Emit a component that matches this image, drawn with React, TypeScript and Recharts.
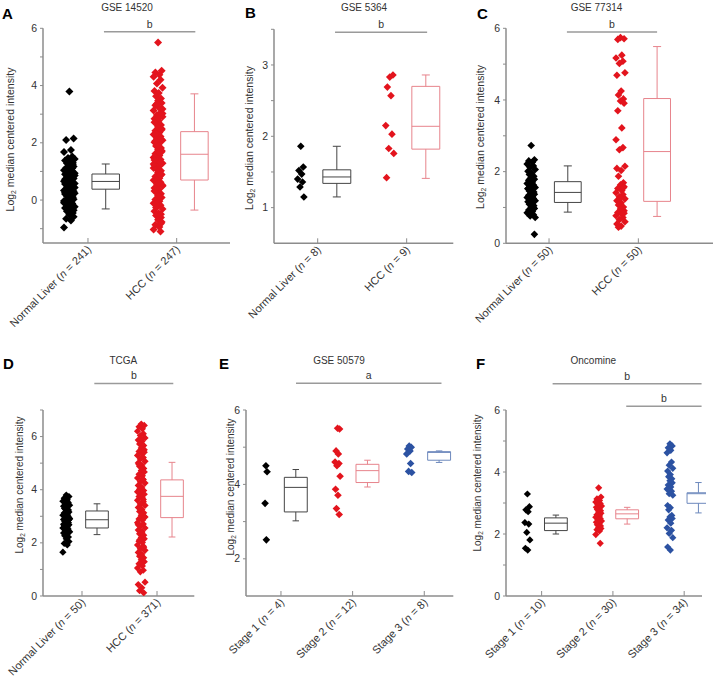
import React from "react";
import { ComposedChart, Scatter, XAxis, YAxis, ReferenceArea, ReferenceLine } from "recharts";

const FONT = '"Liberation Sans", Arial, sans-serif';
const AXIS = "#8c8c8c";
const INK = "#333";
const BLACK = "#000";
const RED = "#e3141d";
const BLUE = "#2c52a2";
const BOX_BLACK = "#444";
const BOX_RED = "#e7848c";
const BOX_BLUE = "#6d89bd";

// A - GSE 14520
const aNames = ["Normal Liver", "HCC"];
const aCounts = [241, 247];
const aNormal = [3.79, 2.15, 2.1, 1.75, 1.68, 1.52, 1.47, 1.43, 1.38, 1.34, 1.29, 1.25, 1.21, 1.17, 1.12, 1.09, 1.04, 1.01, 0.97, 0.94, 0.9, 0.87, 0.84, 0.81, 0.78, 0.75, 0.72, 0.69, 0.66, 0.64, 0.61, 0.58, 0.56, 0.53, 0.5, 0.47, 0.45, 0.42, 0.39, 0.36, 0.33, 0.3, 0.27, 0.24, 0.21, 0.17, 0.14, 0.1, 0.06, 0.03, -0.01, -0.05, -0.09, -0.14, -0.18, -0.23, -0.28, -0.33, -0.39, -0.45, -0.51, -0.58, -0.65, -0.71, -0.96, 1.11, 0.96, 0.86, 0.73, 0.67, 0.59, 0.48, 0.41, 0.31, 0.19, 0.08, -0.03, -0.12, 0.62, 0.44, 0.26, 0.8, 1.0, 1.3, -0.2, -0.36];
const aHcc = [5.5, 4.52, 4.46, 4.38, 4.31, 4.2, 4.07, 3.92, 3.81, 3.74, 3.63, 3.55, 3.47, 3.39, 3.31, 3.22, 3.13, 3.05, 2.97, 2.91, 2.84, 2.77, 2.69, 2.62, 2.56, 2.49, 2.42, 2.36, 2.29, 2.22, 2.16, 2.09, 2.02, 1.96, 1.89, 1.82, 1.76, 1.69, 1.62, 1.56, 1.49, 1.42, 1.36, 1.29, 1.22, 1.16, 1.09, 1.02, 0.96, 0.89, 0.82, 0.76, 0.69, 0.62, 0.56, 0.49, 0.42, 0.36, 0.29, 0.22, 0.16, 0.09, 0.02, -0.04, -0.11, -0.18, -0.24, -0.31, -0.39, -0.46, -0.54, -0.61, -0.69, -0.77, -0.86, -0.94, -1.03, -1.1, 3.36, 3.02, 2.72, 2.52, 2.32, 2.12, 1.92, 1.72, 1.52, 1.32, 1.12, 0.92, 0.72, 0.52, 0.32, 0.12, -0.14, -0.5, 2.87, 2.46, 2.06, 1.66, 1.26, 0.86, 0.46, 3.18, 1.4, 0.6, -0.26, -0.82];
// [lower whisker, Q1, median, Q3, upper whisker]
const aBoxes = [
  [-0.31, 0.38, 0.65, 0.91, 1.26],
  [-0.35, 0.7, 1.6, 2.39, 3.71],
];

// B - GSE 5364
const bNames = ["Normal Liver", "HCC"];
const bCounts = [8, 9];
const bNormal = [1.86, 1.57, 1.52, 1.47, 1.4, 1.36, 1.29, 1.15];
const bHcc = [2.83, 2.86, 2.69, 2.57, 2.15, 2.03, 1.83, 1.76, 1.42];
const bBoxes = [
  [1.15, 1.34, 1.43, 1.53, 1.86],
  [1.41, 1.82, 2.14, 2.7, 2.86],
];

// C - GSE 77314
const cNames = ["Normal Liver", "HCC"];
const cCounts = [50, 50];
const cNormal = [2.73, 2.33, 2.3, 2.26, 2.21, 2.16, 2.12, 2.06, 2.01, 1.96, 1.92, 1.87, 1.83, 1.79, 1.75, 1.71, 1.67, 1.63, 1.6, 1.56, 1.53, 1.49, 1.46, 1.43, 1.4, 1.37, 1.34, 1.31, 1.28, 1.25, 1.22, 1.19, 1.16, 1.12, 1.09, 1.05, 1.01, 0.97, 0.93, 0.89, 0.85, 0.8, 0.76, 0.72, 1.52, 1.2, 1.78, 0.98, 1.65, 0.25];
const cHcc = [5.74, 5.71, 5.69, 5.25, 5.17, 5.08, 5.02, 4.76, 4.69, 4.25, 4.14, 4.03, 3.97, 3.91, 3.7, 3.22, 2.89, 2.67, 2.61, 2.15, 2.09, 2.03, 1.87, 1.69, 1.63, 1.58, 1.53, 1.47, 1.41, 1.36, 1.3, 1.24, 1.19, 1.13, 1.07, 1.01, 0.96, 0.91, 0.86, 0.81, 0.77, 0.72, 0.66, 0.6, 0.54, 0.48, 0.45, 1.55, 1.27, 0.84];
const cBoxes = [
  [0.87, 1.14, 1.42, 1.72, 2.16],
  [0.75, 1.17, 2.56, 4.04, 5.49],
];

// D - TCGA
const dNames = ["Normal Liver", "HCC"];
const dCounts = [50, 371];
const dNormal = [3.8, 3.74, 3.68, 3.62, 3.57, 3.52, 3.47, 3.42, 3.38, 3.33, 3.29, 3.24, 3.2, 3.16, 3.12, 3.08, 3.04, 3.0, 2.96, 2.92, 2.88, 2.84, 2.8, 2.76, 2.72, 2.68, 2.64, 2.6, 2.56, 2.52, 2.47, 2.42, 2.37, 2.32, 2.27, 2.22, 2.15, 2.05, 1.98, 1.92, 1.65, 3.5, 3.1, 2.9, 2.7, 2.5, 3.3, 2.85, 2.62, 2.4];
const dHcc = [6.47, 6.42, 6.37, 6.29, 6.2, 6.11, 6.04, 5.95, 5.87, 5.81, 5.72, 5.66, 5.57, 5.5, 5.44, 5.35, 5.29, 5.21, 5.16, 5.07, 5.01, 4.93, 4.88, 4.8, 4.72, 4.67, 4.58, 4.53, 4.44, 4.38, 4.3, 4.25, 4.16, 4.1, 4.02, 3.97, 3.88, 3.83, 3.74, 3.69, 3.6, 3.55, 3.46, 3.41, 3.33, 3.26, 3.18, 3.13, 3.04, 2.99, 2.9, 2.85, 2.76, 2.71, 2.63, 2.56, 2.48, 2.43, 2.34, 2.29, 2.2, 2.15, 2.06, 2.01, 1.92, 1.87, 1.78, 1.72, 1.64, 1.58, 1.5, 1.44, 1.36, 1.29, 1.21, 1.13, 1.05, 0.97, 0.91, 0.52, 0.43, 0.31, 0.2, 0.12, 5.92, 5.41, 4.95, 4.41, 3.92, 3.63, 3.31, 2.97, 2.68, 2.39, 2.11, 1.83, 1.52];
const dBoxes = [
  [2.31, 2.56, 2.87, 3.2, 3.47],
  [2.22, 2.95, 3.75, 4.37, 5.03],
];

// E - GSE 50579
const eNames = ["Stage 1", "Stage 2", "Stage 3"];
const eCounts = [4, 12, 8];
const eStage1 = [4.5, 4.34, 3.49, 2.51];
const eStage2 = [5.51, 5.49, 4.9, 4.82, 4.6, 4.56, 4.5, 4.22, 3.87, 3.71, 3.35, 3.19];
const eStage3 = [5.03, 5.0, 4.95, 4.9, 4.82, 4.56, 4.35, 4.32];
const eBoxes = [
  [3.02, 3.26, 3.92, 4.19, 4.4],
  [3.93, 4.05, 4.37, 4.54, 4.65],
  [4.59, 4.65, 4.86, 4.88, 4.9],
];

// F - Oncomine
const fNames = ["Stage 1", "Stage 2", "Stage 3"];
const fCounts = [10, 30, 34];
const fStage1 = [3.29, 2.88, 2.78, 2.72, 2.37, 2.32, 2.05, 1.81, 1.54, 1.48];
const fStage2 = [3.49, 3.19, 3.13, 3.08, 3.03, 2.98, 2.95, 2.9, 2.86, 2.82, 2.79, 2.75, 2.71, 2.67, 2.62, 2.58, 2.54, 2.5, 2.46, 2.42, 2.38, 2.34, 2.3, 2.26, 2.22, 2.18, 2.14, 2.1, 1.98, 1.7];
const fStage3 = [4.91, 4.84, 4.78, 4.7, 4.62, 4.32, 4.22, 4.12, 4.03, 3.92, 3.85, 3.78, 3.72, 3.65, 3.58, 3.52, 3.45, 3.38, 3.3, 3.25, 2.92, 2.85, 2.78, 2.6, 2.55, 2.5, 2.45, 2.35, 2.2, 2.12, 2.02, 1.88, 1.58, 1.48];
const fBoxes = [
  [2.0, 2.11, 2.35, 2.52, 2.61],
  [2.32, 2.49, 2.65, 2.78, 2.86],
  [2.68, 2.99, 3.3, 3.33, 3.66],
];

// horizontal spread of the dot columns (fraction of the column half-width)
const JITTER = [0, 0.8, -0.6, 0.3, -1, 0.55, -0.25, 1, -0.8, 0.15, -0.45, 0.65];

type Group = { values: number[]; box: number[]; dot: string; line: string; spread: number };
type Sig = { from: number; to: number; y: number; text: string };
type PanelProps = {
  plot: number[];
  xDomain: [number, number];
  yDomain: [number, number];
  yTicks: number[];
  yLabeled: number[];
  names: string[];
  counts: number[];
  groups: Group[];
  sigs: Sig[];
  dotOff: number;
  boxOff: number;
  half: number;
  r: number;
  fs: number;
};

function CatTick(props: any) {
  const { x, y, payload, names, counts, fs } = props;
  const i = Math.round(payload.value) - 1;
  const ax = x + 4;
  const ay = y;
  return (
    <text x={ax} y={ay} transform={`rotate(-45 ${ax} ${ay})`} textAnchor="end" fontSize={fs} fill={INK} fontFamily={FONT}>
      {names[i]} (<tspan fontStyle="italic">n</tspan> = {counts[i]})
    </text>
  );
}

function Panel(p: PanelProps) {
  const [left, top, right, bottom] = p.plot;
  const YW = 40;
  const MR = 4;
  const XH = 100;
  const MT = Math.min(top, 45);
  const width = YW + (right - left) + MR;
  const height = MT + (bottom - top) + XH;
  const cats = p.groups.map((_, i) => i + 1);
  const cap = 0.045;
  // 5px inward tick marks on the category axis, in data units
  const tickUp = ((p.yDomain[1] - p.yDomain[0]) / (bottom - top)) * 5;

  const parts: React.ReactElement[] = [];
  cats.forEach((c) => {
    parts.push(
      <ReferenceLine key={`xt-${c}`} segment={[{ x: c, y: p.yDomain[0] }, { x: c, y: p.yDomain[0] + tickUp }]} stroke={AXIS} strokeWidth={1} ifOverflow="visible" />
    );
  });
  p.groups.forEach((g, gi) => {
    const [lo, q1, med, q3, hi] = g.box;
    const bx = cats[gi] + p.boxOff;
    const seg = (x1: number, y1: number, x2: number, y2: number, k: string) => (
      <ReferenceLine key={`${gi}-${k}`} segment={[{ x: x1, y: y1 }, { x: x2, y: y2 }]} stroke={g.line} strokeWidth={1} ifOverflow="visible" />
    );
    parts.push(
      <ReferenceArea key={`${gi}-box`} x1={bx - p.half} x2={bx + p.half} y1={q1} y2={q3} fill="none" stroke={g.line} strokeWidth={1} fillOpacity={0} ifOverflow="visible" />
    );
    parts.push(seg(bx - p.half, med, bx + p.half, med, "med"));
    parts.push(seg(bx, q3, bx, hi, "wh"));
    parts.push(seg(bx, q1, bx, lo, "wl"));
    parts.push(seg(bx - cap, hi, bx + cap, hi, "ch"));
    parts.push(seg(bx - cap, lo, bx + cap, lo, "cl"));
  });

  return (
    <div style={{ position: "absolute", left: left - YW, top: top - MT }}>
      <ComposedChart width={width} height={height} margin={{ top: MT, right: MR, bottom: 0, left: 0 }}>
        <XAxis
          type="number"
          dataKey="x"
          domain={p.xDomain}
          ticks={cats}
          allowDataOverflow
          height={XH}
          interval={0}
          axisLine={{ stroke: AXIS, strokeWidth: 1.5 }}
          tickLine={false}
          tickSize={0}
          tickMargin={7}
          tick={(t: any) => <CatTick {...t} names={p.names} counts={p.counts} fs={11} />}
        />
        <YAxis
          type="number"
          dataKey="y"
          domain={p.yDomain}
          ticks={p.yTicks}
          allowDataOverflow
          width={YW}
          interval={0}
          axisLine={{ stroke: AXIS, strokeWidth: 1.5 }}
          tickLine={{ stroke: AXIS }}
          tickSize={3}
          tickMargin={3}
          tick={(t: any) =>
            p.yLabeled.includes(t.payload.value) ? (
              <text x={t.x} y={t.y} dy={3.6} textAnchor="end" fontSize={p.fs} fill={INK} fontFamily={FONT}>
                {t.payload.value}
              </text>
            ) : (
              <g />
            )
          }
        />
        {parts}
        {p.groups.map((g, gi) => (
          <Scatter
            key={`dots-${gi}`}
            data={g.values.map((v, i) => ({ x: cats[gi] + p.dotOff + JITTER[i % JITTER.length] * g.spread, y: v }))}
            fill={g.dot}
            isAnimationActive={false}
            shape={(s: any) => (
              <polygon
                points={`${s.cx},${s.cy - p.r} ${s.cx + p.r},${s.cy} ${s.cx},${s.cy + p.r} ${s.cx - p.r},${s.cy}`}
                fill={g.dot}
              />
            )}
          />
        ))}
        {p.sigs.map((s, si) => (
          <ReferenceLine
            key={`sig-${si}`}
            segment={[{ x: s.from, y: s.y }, { x: s.to, y: s.y }]}
            stroke="#9a9a9a"
            strokeWidth={1.5}
            ifOverflow="visible"
            label={{ value: s.text, position: "top", offset: 4, fill: INK, fontSize: 10.5, fontFamily: FONT }}
          />
        ))}
      </ComposedChart>
    </div>
  );
}

function YLabel({ x, y, fs }: { x: number; y: number; fs: number }) {
  return (
    <text transform={`translate(${x},${y}) rotate(-90)`} textAnchor="middle" fontSize={fs} fill={INK} fontFamily={FONT}>
      Log<tspan fontSize={fs * 0.65} dy={2}>2</tspan>
      <tspan dy={-2}>{" median centered intensity"}</tspan>
    </text>
  );
}

export default function App() {
  const title = { fontSize: 10, fill: INK, fontFamily: FONT, textAnchor: "middle" as const };
  const letter = { fontSize: 15, fontWeight: 700, fill: "#000", fontFamily: FONT };
  return (
    <div style={{ position: "absolute", left: 0, top: 0, width: 716, height: 684, background: "#fff", overflow: "hidden" }}>
      <Panel
        plot={[43, 28.3, 230, 243]}
        xDomain={[0.493, 2.601]}
        yDomain={[-1.5, 6]}
        yTicks={[-1, 0, 1, 2, 3, 4, 5, 6]}
        yLabeled={[0, 2, 4, 6]}
        names={aNames}
        counts={aCounts}
        groups={[
          { values: aNormal, box: aBoxes[0], dot: BLACK, line: BOX_BLACK, spread: 0.06 },
          { values: aHcc, box: aBoxes[1], dot: RED, line: BOX_RED, spread: 0.05 },
        ]}
        sigs={[{ from: 1.18, to: 2.21, y: 5.88, text: "b" }]}
        dotOff={-0.21}
        boxOff={0.2}
        half={0.155}
        r={4}
        fs={10.5}
      />
      <Panel
        plot={[274, 29.3, 453.3, 243.3]}
        xDomain={[0.509, 2.524]}
        yDomain={[0.5, 3.5]}
        yTicks={[1, 1.5, 2, 2.5, 3, 3.5]}
        yLabeled={[1, 2, 3]}
        names={bNames}
        counts={bCounts}
        groups={[
          { values: bNormal, box: bBoxes[0], dot: BLACK, line: BOX_BLACK, spread: 0.035 },
          { values: bHcc, box: bBoxes[1], dot: RED, line: BOX_RED, spread: 0.045 },
        ]}
        sigs={[{ from: 1.195, to: 2.23, y: 3.46, text: "b" }]}
        dotOff={-0.19}
        boxOff={0.215}
        half={0.157}
        r={3.8}
        fs={10.5}
      />
      <Panel
        plot={[506, 28.3, 713, 243.3]}
        xDomain={[0.518, 2.836]}
        yDomain={[0, 6]}
        yTicks={[0, 1, 2, 3, 4, 5, 6]}
        yLabeled={[0, 2, 4, 6]}
        names={cNames}
        counts={cCounts}
        groups={[
          { values: cNormal, box: cBoxes[0], dot: BLACK, line: BOX_BLACK, spread: 0.045 },
          { values: cHcc, box: cBoxes[1], dot: RED, line: BOX_RED, spread: 0.05 },
        ]}
        sigs={[{ from: 1.2, to: 2.21, y: 5.9, text: "b" }]}
        dotOff={-0.2}
        boxOff={0.21}
        half={0.15}
        r={3.8}
        fs={10.5}
      />
      <Panel
        plot={[42.7, 410, 194, 596]}
        xDomain={[0.48, 2.497]}
        yDomain={[0, 7]}
        yTicks={[0, 1, 2, 3, 4, 5, 6, 7]}
        yLabeled={[0, 2, 4, 6]}
        names={dNames}
        counts={dCounts}
        groups={[
          { values: dNormal, box: dBoxes[0], dot: BLACK, line: BOX_BLACK, spread: 0.045 },
          { values: dHcc, box: dBoxes[1], dot: RED, line: BOX_RED, spread: 0.05 },
        ]}
        sigs={[{ from: 1.164, to: 2.217, y: 8.0, text: "b" }]}
        dotOff={-0.21}
        boxOff={0.2}
        half={0.151}
        r={3.6}
        fs={10.5}
      />
      <Panel
        plot={[246, 410, 453.3, 596]}
        xDomain={[0.512, 3.405]}
        yDomain={[1, 6]}
        yTicks={[2, 3, 4, 5, 6]}
        yLabeled={[2, 4, 6]}
        names={eNames}
        counts={eCounts}
        groups={[
          { values: eStage1, box: eBoxes[0], dot: BLACK, line: BOX_BLACK, spread: 0.02 },
          { values: eStage2, box: eBoxes[1], dot: RED, line: BOX_RED, spread: 0.035 },
          { values: eStage3, box: eBoxes[2], dot: BLUE, line: BOX_BLUE, spread: 0.035 },
        ]}
        sigs={[{ from: 1.21, to: 3.24, y: 6.72, text: "a" }]}
        dotOff={-0.21}
        boxOff={0.207}
        half={0.16}
        r={3.8}
        fs={10.5}
      />
      <Panel
        plot={[506, 409.5, 702, 595.5]}
        xDomain={[0.5, 3.25]}
        yDomain={[0, 6]}
        yTicks={[0, 1, 2, 3, 4, 5, 6]}
        yLabeled={[0, 2, 4, 6]}
        names={fNames}
        counts={fCounts}
        groups={[
          { values: fStage1, box: fBoxes[0], dot: BLACK, line: BOX_BLACK, spread: 0.035 },
          { values: fStage2, box: fBoxes[1], dot: RED, line: BOX_RED, spread: 0.04 },
          { values: fStage3, box: fBoxes[2], dot: BLUE, line: BOX_BLUE, spread: 0.04 },
        ]}
        sigs={[
          { from: 1.154, to: 3.244, y: 6.85, text: "b" },
          { from: 2.187, to: 3.244, y: 6.12, text: "b" },
        ]}
        dotOff={-0.2}
        boxOff={0.2}
        half={0.16}
        r={3.6}
        fs={10.5}
      />
      <svg width={716} height={684} style={{ position: "absolute", left: 0, top: 0, pointerEvents: "none" }}>
        <text x={2} y={18.5} {...letter}>A</text>
        <text x={245} y={18} {...letter}>B</text>
        <text x={477} y={18.5} {...letter}>C</text>
        <text x={3} y={368.5} {...letter}>D</text>
        <text x={219} y={368.5} {...letter}>E</text>
        <text x={476} y={368.5} {...letter}>F</text>
        <text x={127} y={11} {...title}>GSE 14520</text>
        <text x={364} y={11} {...title}>GSE 5364</text>
        <text x={596.5} y={11} {...title}>GSE 77314</text>
        <text x={123.3} y={363.5} {...title}>TCGA</text>
        <text x={339} y={363.5} {...title}>GSE 50579</text>
        <text x={593.3} y={363.5} {...title}>Oncomine</text>
        <YLabel x={14} y={139.5} fs={10.5} />
        <YLabel x={252.5} y={138} fs={10.5} />
        <YLabel x={484} y={137} fs={10.5} />
        <YLabel x={23} y={485} fs={10} />
        <YLabel x={234} y={487} fs={10} />
        <YLabel x={481} y={483} fs={10} />
      </svg>
    </div>
  );
}
